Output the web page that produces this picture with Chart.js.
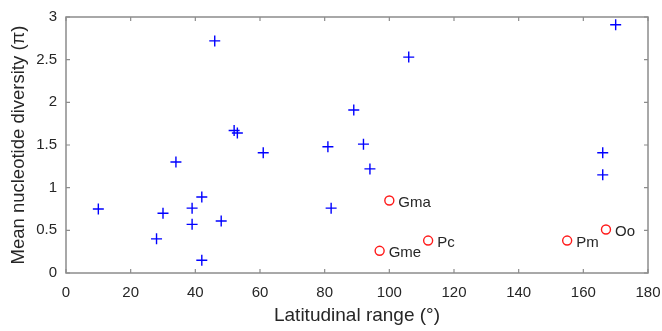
<!DOCTYPE html>
<html>
<head>
<meta charset="utf-8">
<script src="https://cdn.jsdelivr.net/npm/chart.js@4"></script>
<style>
  html, body { margin: 0; padding: 0; background: #fff; }
  #wrap { width: 662px; height: 331px; }
</style>
</head>
<body>
<div id="wrap"><canvas id="c"></canvas></div>
<script>
// species (blue crosses)
const speciesX = [10, 28, 30, 34, 39, 39, 42, 42, 46, 48, 52, 53, 61, 81, 82, 89, 92, 94, 106, 166, 166, 170];
const speciesY = [0.75, 0.40, 0.70, 1.30, 0.76, 0.57, 0.89, 0.15, 2.72, 0.61, 1.67, 1.64, 1.41, 1.48, 0.76, 1.91, 1.51, 1.22, 2.53, 1.41, 1.15, 2.91];

// labelled taxa (red circles)
const focalNames = ['Gma', 'Gme', 'Pc', 'Pm', 'Oo'];
const focalX = [100, 97, 112, 155, 167];
const focalY = [0.85, 0.26, 0.38, 0.38, 0.51];

const xTicks = [0, 20, 40, 60, 80, 100, 120, 140, 160, 180];
const yTicks = [0, 0.5, 1, 1.5, 2, 2.5, 3];

const FONT = '"Liberation Sans", Arial, sans-serif';
const AXIS = '#8c8c8c';
const TEXT = '#262626';

// MATLAB style box with inward ticks on all four sides
const boxPlugin = {
  id: 'box',
  afterDraw(chart) {
    const { ctx, chartArea: a, scales: { x, y } } = chart;
    ctx.save();
    ctx.strokeStyle = AXIS;
    ctx.lineWidth = 1.5;
    ctx.strokeRect(a.left, a.top, a.right - a.left, a.bottom - a.top);
    ctx.lineWidth = 1.2;
    const t = 4;
    ctx.beginPath();
    xTicks.forEach(v => {
      const px = x.getPixelForValue(v);
      ctx.moveTo(px, a.bottom); ctx.lineTo(px, a.bottom - t);
      ctx.moveTo(px, a.top); ctx.lineTo(px, a.top + t);
    });
    yTicks.forEach(v => {
      const py = y.getPixelForValue(v);
      ctx.moveTo(a.left, py); ctx.lineTo(a.left + t, py);
      ctx.moveTo(a.right, py); ctx.lineTo(a.right - t, py);
    });
    ctx.stroke();
    ctx.restore();
  }
};

// names next to the red circles
const namePlugin = {
  id: 'names',
  afterDatasetsDraw(chart) {
    const { ctx, scales: { x, y } } = chart;
    ctx.save();
    ctx.fillStyle = TEXT;
    ctx.font = '15px ' + FONT;
    ctx.textBaseline = 'middle';
    focalNames.forEach((n, i) => {
      ctx.fillText(n, x.getPixelForValue(focalX[i]) + 9, y.getPixelForValue(focalY[i]) + 2);
    });
    ctx.restore();
  }
};

new Chart(document.getElementById('c'), {
  type: 'scatter',
  data: {
    datasets: [
      {
        data: speciesX.map((v, i) => ({ x: v, y: speciesY[i] })),
        pointStyle: 'cross',
        radius: 5.5,
        borderColor: '#0000ff',
        borderWidth: 1.4
      },
      {
        data: focalX.map((v, i) => ({ x: v, y: focalY[i] })),
        pointStyle: 'circle',
        radius: 4.5,
        borderColor: '#ff1a1a',
        backgroundColor: 'rgba(0,0,0,0)',
        borderWidth: 1.4
      }
    ]
  },
  options: {
    responsive: true,
    maintainAspectRatio: false,
    animation: false,
    layout: { padding: { top: 17, right: 14, left: 0, bottom: 0 } },
    plugins: { legend: { display: false }, tooltip: { enabled: false } },
    scales: {
      x: {
        type: 'linear', min: 0, max: 180,
        afterBuildTicks: s => { s.ticks = xTicks.map(v => ({ value: v })); },
        afterFit: s => { s.height = 58; s.paddingLeft = 0; s.paddingRight = 0; },
        grid: { display: false, drawTicks: false },
        border: { display: false },
        ticks: { color: TEXT, font: { family: FONT, size: 15 }, padding: 11, maxRotation: 0, callback: v => String(v) },
        title: { display: true, text: 'Latitudinal range (°)', color: TEXT, font: { family: FONT, size: 19 }, padding: { top: 0 } }
      },
      y: {
        type: 'linear', min: 0, max: 3,
        afterBuildTicks: s => { s.ticks = yTicks.map(v => ({ value: v })); },
        afterFit: s => { s.width = 66; s.paddingTop = 0; s.paddingBottom = 0; },
        grid: { display: false, drawTicks: false },
        border: { display: false },
        ticks: { color: TEXT, font: { family: FONT, size: 15 }, padding: 9, callback: v => String(v) },
        title: { display: true, text: 'Mean nucleotide diversity (π)', color: TEXT, font: { family: FONT, size: 18.5 }, padding: { top: 8, bottom: 0 } }
      }
    }
  },
  plugins: [boxPlugin, namePlugin]
});
</script>
</body>
</html>
